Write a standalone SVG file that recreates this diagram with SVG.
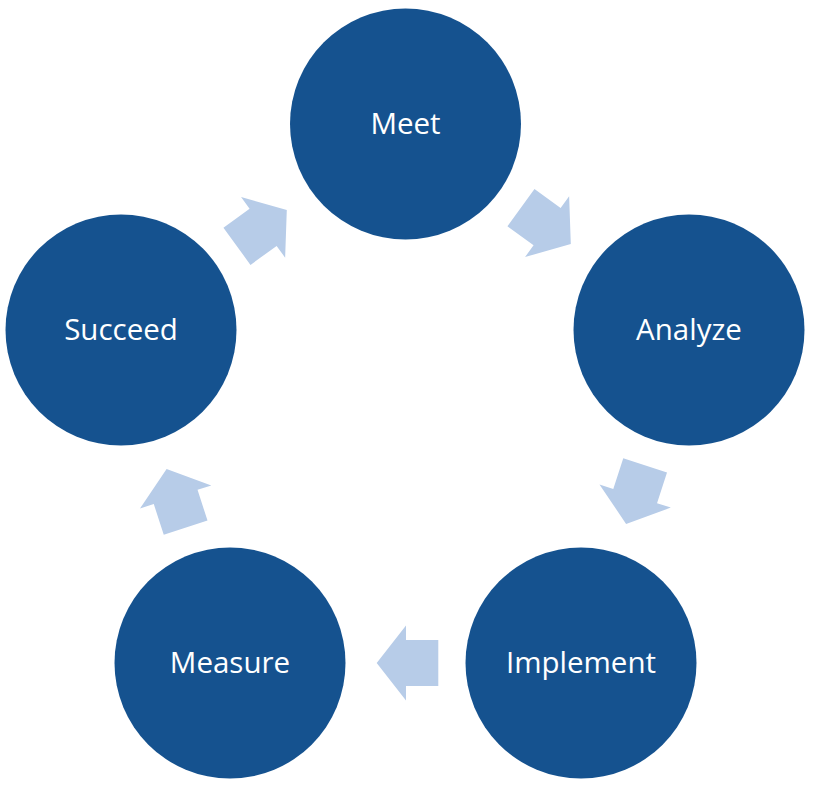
<svg xmlns="http://www.w3.org/2000/svg" width="814" height="791" viewBox="0 0 814 791">
<style>
.node circle{fill:#15528F}
.node text{fill:#ffffff;font-family:"Open Sans","Liberation Sans",sans-serif;font-size:29.5px;text-anchor:middle}
.arr{fill:#B7CCE8}
</style>
<defs>
<polygon id="arrow" points="-32.8,-23 -0.5,-23 -0.5,-37.5 28.8,0 -0.5,37.5 -0.5,23 -32.8,23"/>
</defs>
<rect width="814" height="791" fill="#ffffff"/>
<g id="connectors">
<use href="#arrow" class="arr" transform="translate(547.5,227) rotate(36)"/>
<use href="#arrow" class="arr" transform="translate(635,496.5) rotate(108)"/>
<use href="#arrow" class="arr" transform="translate(405.5,663) rotate(180)"/>
<use href="#arrow" class="arr" transform="translate(175.5,496.5) rotate(252)"/>
<use href="#arrow" class="arr" transform="translate(263.5,227) rotate(324)"/>
</g>
<g id="meet" class="node"><circle cx="405.5" cy="124" r="115.5"/><text x="405.5" y="134">Meet</text></g>
<g id="analyze" class="node"><circle cx="689" cy="330" r="115.5"/><text x="689" y="340">Analyze</text></g>
<g id="implement" class="node"><circle cx="581" cy="663" r="115.5"/><text x="581" y="673">Implement</text></g>
<g id="measure" class="node"><circle cx="230" cy="663" r="115.5"/><text x="230" y="673">Measure</text></g>
<g id="succeed" class="node"><circle cx="121" cy="330" r="115.5"/><text x="121" y="340">Succeed</text></g>
</svg>
